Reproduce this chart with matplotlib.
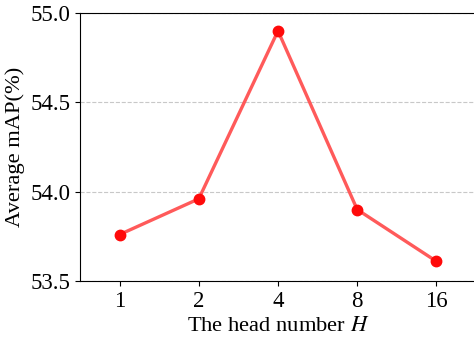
import matplotlib.pyplot as plt

plt.rcParams['font.family'] = 'Liberation Serif'
plt.rcParams['mathtext.fontset'] = 'stix'

# data
heads = ['1', '2', '4', '8', '16']
mean_ap = [53.76, 53.96, 54.90, 53.90, 53.61]
y_ticks = [53.5, 54.0, 54.5, 55.0]

fig = plt.figure(figsize=(4.74, 3.37), dpi=100)
ax = fig.add_axes([80 / 474, 1 - 281 / 337, 396 / 474, 268 / 337])

x = list(range(len(heads)))
ax.plot(x, mean_ap, color='#ff5a5a', linewidth=2.4, zorder=3)
ax.plot(x, mean_ap, 'o', color='#ff0a0a', markersize=7.5, zorder=4)

ax.set_xlim(-0.5, len(heads) - 0.5)
ax.set_ylim(53.5, 55.0)
ax.set_xticks(x)
ax.set_xticklabels(heads)
ax.set_yticks(y_ticks)
ax.set_yticklabels([f'{t:.1f}' for t in y_ticks])
ax.tick_params(labelsize=16.5)
ax.grid(axis='y', linestyle='--', color='#c8c8c8', linewidth=0.8)

ax.set_xlabel('The head number $H$', fontsize=16.2)
ax.set_ylabel('Average mAP(%)', fontsize=16.2)

fig.savefig('out.png', dpi=100)
